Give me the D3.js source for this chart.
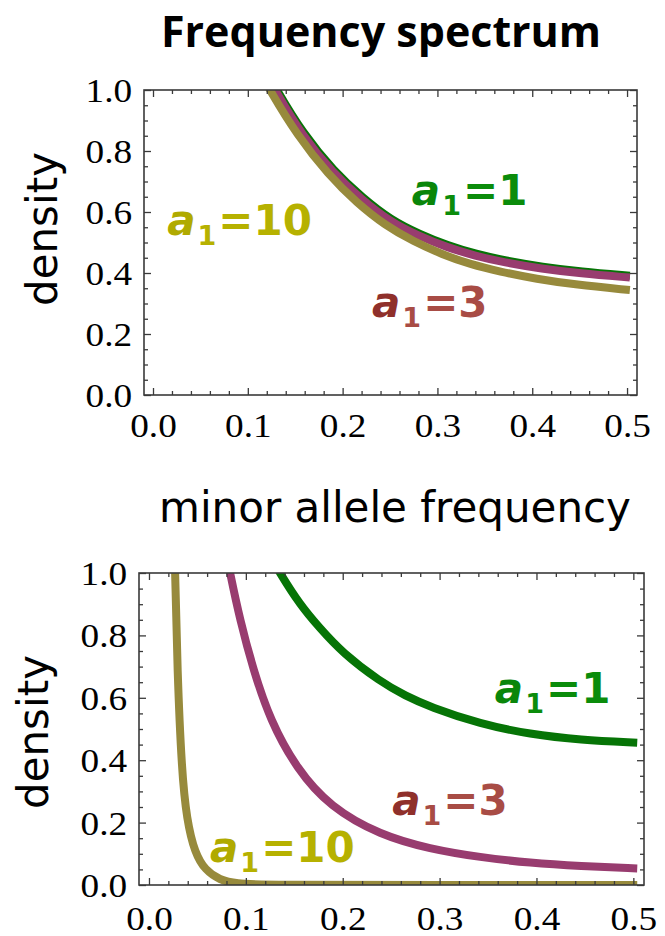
<!DOCTYPE html>
<html>
<head>
<meta charset="utf-8">
<script src="https://cdn.jsdelivr.net/npm/d3@7"></script>
<style>
  body { margin: 0; background: #ffffff; }
  svg { display: block; }
</style>
</head>
<body>
<svg id="chart" width="665" height="936"></svg>
<script>
// ---- data -------------------------------------------------------------
const seriesKeys = ["1", "3", "10"];

const xTickValues = [0, 0.1, 0.2, 0.3, 0.4, 0.5];
const yTickValues = [0, 0.2, 0.4, 0.6, 0.8, 1.0];

// Frequency spectrum (upper panel)
const specX_a1  = [0.119, 0.1295, 0.158, 0.191, 0.221, 0.251, 0.281, 0.311, 0.341, 0.371, 0.411, 0.451, 0.503];
const specY_a1  = [1.066, 1.006, 0.858, 0.733, 0.647, 0.574, 0.528, 0.490, 0.462, 0.441, 0.420, 0.405, 0.391];
const specX_a3  = [0.118, 0.1287, 0.157, 0.190, 0.220, 0.250, 0.280, 0.310, 0.340, 0.370, 0.410, 0.450, 0.503];
const specY_a3  = [1.060, 1.000, 0.852, 0.727, 0.641, 0.568, 0.522, 0.484, 0.456, 0.435, 0.414, 0.399, 0.385];
const specX_a10 = [0.113, 0.123, 0.152, 0.185, 0.215, 0.245, 0.275, 0.305, 0.335, 0.365, 0.405, 0.445, 0.503];
const specY_a10 = [1.060, 1.000, 0.852, 0.722, 0.630, 0.556, 0.503, 0.461, 0.428, 0.405, 0.380, 0.362, 0.344];

// Minor allele frequency (lower panel)
const mafX_a1  = [0.125, 0.135, 0.156, 0.175, 0.200, 0.2386, 0.265, 0.290, 0.342, 0.3936, 0.445, 0.504];
const mafY_a1  = [1.056, 1.000, 0.898, 0.828, 0.743, 0.652, 0.606, 0.571, 0.516, 0.483, 0.465, 0.456];
const mafX_a3  = [0.078, 0.0837, 0.094, 0.1078, 0.125, 0.1525, 0.187, 0.2386, 0.290, 0.342, 0.3936, 0.445, 0.504];
const mafY_a3  = [1.090, 1.000, 0.849, 0.689, 0.529, 0.372, 0.250, 0.160, 0.1155, 0.0887, 0.0705, 0.0605, 0.053];
const mafX_a10 = [0.0255, 0.0269, 0.0293, 0.0337, 0.039, 0.0475, 0.058, 0.073, 0.090, 0.120, 0.300, 0.504];
const mafY_a10 = [1.250, 1.000, 0.689, 0.369, 0.208, 0.1015, 0.048, 0.016, 0.004, 0.000, 0.000, 0.000];

// ---- styling ----------------------------------------------------------
const curveColor = { "1": "#067406", "3": "#983c6f", "10": "#978a3c" };
const labelColor = { "1": "#0b8c0b", "3": "#a84c45", "10": "#b6b100" };
const labelAColor = { "1": "#0a860a", "3": "#8f302b", "10": "#b0aa00" };

const tickFont = "Liberation Serif, Times New Roman, Times, serif";
const textFont = "DejaVu Sans, Verdana, sans-serif";

const svg = d3.select("#chart");

function zip(xs, ys) { return xs.map((x, i) => ({ x, y: ys[i] })); }

function drawPanel(cfg) {
  const x = d3.scaleLinear().domain(cfg.xDomain).range([cfg.left, cfg.right]);
  const y = d3.scaleLinear().domain([0, 1]).range([cfg.bottom, cfg.top]);
  const g = svg.append("g");

  const clipId = "clip-" + cfg.id;
  svg.append("defs").append("clipPath").attr("id", clipId)
    .append("rect")
    .attr("x", cfg.left).attr("y", cfg.top)
    .attr("width", cfg.right - cfg.left).attr("height", cfg.bottom - cfg.top);

  // curves
  const line = d3.line().x(d => x(d.x)).y(d => y(d.y)).curve(d3.curveBasis);
  const curves = g.append("g").attr("clip-path", `url(#${clipId})`);
  cfg.series.forEach(s => {
    curves.append("path")
      .attr("d", line(zip(s.xs, s.ys)))
      .attr("fill", "none")
      .attr("stroke", curveColor[s.key])
      .attr("stroke-width", 8)
      .attr("stroke-linecap", "butt");
  });

  // frame ticks on all four sides, pointing inward
  const xMinor = d3.range(0, 0.5001, 0.02).filter(v => Math.abs(v * 10 - Math.round(v * 10)) > 1e-6);
  const yMinor = d3.range(0, 1.0001, 0.05).filter(v => Math.abs(v * 5 - Math.round(v * 5)) > 1e-6);
  const frameColor = "#3a3a3a";

  function axisLayer(axis, tx, ty) {
    const a = g.append("g").attr("transform", `translate(${tx},${ty})`).call(axis);
    a.select(".domain").remove();
    a.selectAll(".tick line").attr("stroke", frameColor).attr("stroke-width", 1.3);
    return a;
  }

  // minor ticks
  axisLayer(d3.axisLeft(y).tickValues(yMinor).tickSizeInner(-4).tickSizeOuter(0).tickFormat(""), cfg.left, 0);
  axisLayer(d3.axisRight(y).tickValues(yMinor).tickSizeInner(-4).tickSizeOuter(0).tickFormat(""), cfg.right, 0);
  axisLayer(d3.axisBottom(x).tickValues(xMinor).tickSizeInner(-4).tickSizeOuter(0).tickFormat(""), 0, cfg.bottom);
  axisLayer(d3.axisTop(x).tickValues(xMinor).tickSizeInner(-4).tickSizeOuter(0).tickFormat(""), 0, cfg.top);

  // major ticks
  axisLayer(d3.axisRight(y).tickValues(yTickValues).tickSizeInner(-7).tickSizeOuter(0).tickFormat(""), cfg.right, 0);
  axisLayer(d3.axisTop(x).tickValues(xTickValues).tickSizeInner(-7).tickSizeOuter(0).tickFormat(""), 0, cfg.top);

  const left = axisLayer(d3.axisLeft(y).tickValues(yTickValues).tickSizeInner(-7).tickSizeOuter(0)
    .tickFormat(d3.format(".1f")), cfg.left, 0);
  left.attr("font-family", tickFont).attr("font-size", 33);
  left.selectAll(".tick text")
    .attr("x", -10.5).attr("dy", "0.35em")
    .attr("transform", "scale(1.13,1)")
    .attr("font-family", tickFont)
    .attr("font-weight", "normal")
    .attr("font-size", 33).attr("fill", "#000");

  const bottom = axisLayer(d3.axisBottom(x).tickValues(xTickValues).tickSizeInner(-7).tickSizeOuter(0)
    .tickFormat(d3.format(".1f")), 0, cfg.bottom);
  bottom.attr("font-family", tickFont).attr("font-size", 33);
  bottom.selectAll(".tick text")
    .attr("y", cfg.xLabelOffset).attr("dy", 0)
    .attr("transform", "scale(1.13,1)")
    .attr("font-family", tickFont)
    .attr("font-weight", "normal")
    .attr("font-size", 33).attr("fill", "#000");

  // frame
  g.append("rect")
    .attr("x", cfg.left).attr("y", cfg.top)
    .attr("width", cfg.right - cfg.left).attr("height", cfg.bottom - cfg.top)
    .attr("fill", "none").attr("stroke", frameColor).attr("stroke-width", 1.6);

  // y axis title
  g.append("text")
    .attr("transform", `translate(${cfg.yTitleX},${cfg.yTitleY}) rotate(-90)`)
    .attr("text-anchor", "middle")
    .attr("font-family", textFont)
    .attr("font-size", 42)
    .attr("fill", "#000")
    .text("density");

  // series labels
  cfg.labels.forEach(l => {
    const t = g.append("text")
      .attr("x", x(l.x)).attr("y", y(l.y))
      .attr("font-family", textFont)
      .attr("font-weight", "bold")
      .attr("font-size", 42)
      .attr("fill", labelColor[l.key]);
    t.append("tspan").attr("font-style", "italic").attr("fill", labelAColor[l.key]).text("a");
    t.append("tspan").attr("font-size", 27).attr("dx", 2).attr("dy", 10).text("1");
    t.append("tspan").attr("dx", 2).attr("dy", -10).text("=" + l.key);
  });
}

drawPanel({
  id: "spectrum",
  left: 144, right: 637, top: 90, bottom: 395,
  xDomain: [-0.0095, 0.5105],
  xLabelOffset: 42,
  yTitleX: 57, yTitleY: 229,
  series: [
    { key: "1",  xs: specX_a1,  ys: specY_a1 },
    { key: "3",  xs: specX_a3,  ys: specY_a3 },
    { key: "10", xs: specX_a10, ys: specY_a10 }
  ],
  labels: [
    { key: "1",  x: 0.273, y: 0.623 },
    { key: "10", x: 0.015, y: 0.525 },
    { key: "3",  x: 0.231, y: 0.256 }
  ]
});

drawPanel({
  id: "maf",
  left: 139, right: 644, top: 573, bottom: 885,
  xDomain: [-0.0103, 0.511],
  xLabelOffset: 45,
  yTitleX: 48, yTitleY: 732,
  series: [
    { key: "1",  xs: mafX_a1,  ys: mafY_a1 },
    { key: "3",  xs: mafX_a3,  ys: mafY_a3 },
    { key: "10", xs: mafX_a10, ys: mafY_a10 }
  ],
  labels: [
    { key: "1",  x: 0.357, y: 0.583 },
    { key: "3",  x: 0.251, y: 0.224 },
    { key: "10", x: 0.063, y: 0.074 }
  ]
});

// titles
svg.append("text")
  .attr("x", 381).attr("y", 47)
  .attr("text-anchor", "middle")
  .attr("font-family", "Open Sans, sans-serif")
  .attr("font-weight", "bold")
  .attr("font-size", 43)
  .attr("fill", "#000")
  .text("Frequency spectrum");

svg.append("text")
  .attr("x", 395).attr("y", 522)
  .attr("text-anchor", "middle")
  .attr("font-family", textFont)
  .attr("font-size", 42)
  .attr("fill", "#000")
  .text("minor allele frequency");
</script>
</body>
</html>
